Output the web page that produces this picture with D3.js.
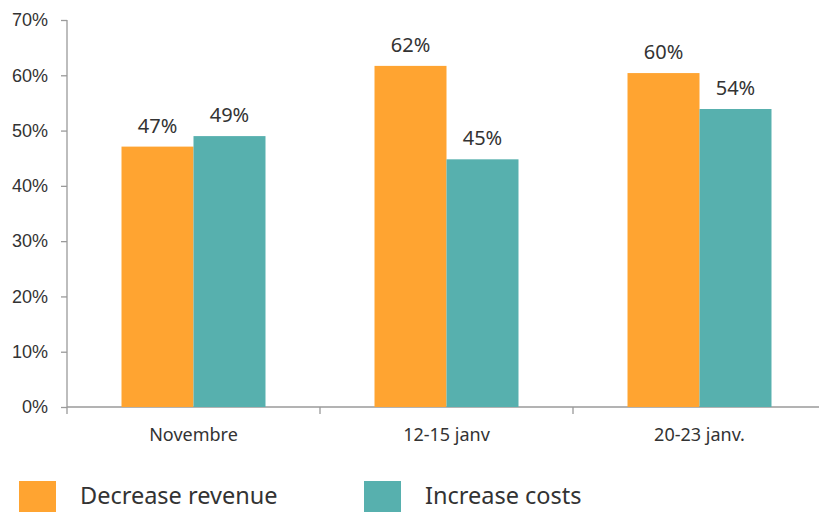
<!DOCTYPE html>
<html lang="fr">
<head>
    <meta charset="UTF-8">
    <title>Decrease revenue / Increase costs</title>
    <style>
        body {
            margin: 0;
            padding: 0;
            background-color: #fff;
            font-family: 'Noto Sans', sans-serif;
        }
        .axis path, .axis line {
            stroke: #9a9a9a;
            stroke-width: 1.3px;
        }
        .axis text {
            fill: #333;
        }
        .value-label {
            fill: #333;
            text-anchor: middle;
        }
        .legend text {
            fill: #333;
        }
    </style>
</head>
<body>
    <div id="chart"></div>

    <script src="https://d3js.org/d3.v7.min.js"></script>
    <script>
        const categories = ['Novembre', '12-15 janv', '20-23 janv.'];
        const seriesNames = ['Decrease revenue', 'Increase costs'];
        const decreaseRevenue = [47.1, 61.7, 60.4];
        const increaseCosts = [49.0, 44.8, 53.9];
        const yTicks = [0, 10, 20, 30, 40, 50, 60, 70];

        const colors = ['#ffa431', '#57b0ae'];
        const width = 819, height = 512;

        const data = categories.map((c, i) => ({
            category: c,
            values: [decreaseRevenue[i], increaseCosts[i]]
        }));

        const svg = d3.select('#chart')
            .append('svg')
            .attr('width', width)
            .attr('height', height);

        const x0 = d3.scaleBand()
            .domain(categories)
            .range([67, 826])
            .paddingInner(0)
            .paddingOuter(0);

        const x1 = d3.scaleBand()
            .domain(seriesNames)
            .range([0, x0.bandwidth()])
            .paddingInner(0)
            .paddingOuter(0.757);

        const y = d3.scaleLinear()
            .domain([0, 70])
            .range([407, 20]);

        // y axis
        const yAxis = svg.append('g')
            .attr('class', 'axis')
            .attr('transform', 'translate(67,0)')
            .call(d3.axisLeft(y)
                .tickValues(yTicks)
                .tickSize(6)
                .tickPadding(13)
                .tickFormat(d => d + '%'));
        yAxis.select('.domain').attr('d', 'M0,20V414');
        yAxis.selectAll('text').style('font-size', '18px');

        // x axis
        const xAxis = svg.append('g')
            .attr('class', 'axis')
            .attr('transform', 'translate(0,407)');
        xAxis.append('line')
            .attr('x1', 67).attr('x2', width)
            .attr('y1', 0).attr('y2', 0);
        xAxis.selectAll('.tick-line')
            .data(categories.slice(1))
            .enter()
            .append('line')
            .attr('x1', d => x0(d)).attr('x2', d => x0(d))
            .attr('y1', 0).attr('y2', 7);
        xAxis.selectAll('.cat-label')
            .data(categories)
            .enter()
            .append('text')
            .attr('x', d => x0(d) + x0.bandwidth() / 2)
            .attr('y', 34)
            .attr('text-anchor', 'middle')
            .style('font-size', '18px')
            .text(d => d);

        // bars
        const groups = svg.selectAll('.group')
            .data(data)
            .enter()
            .append('g')
            .attr('transform', d => `translate(${x0(d.category)},0)`);

        groups.selectAll('rect')
            .data(d => d.values.map((v, i) => ({ key: seriesNames[i], value: v, i })))
            .enter()
            .append('rect')
            .attr('x', d => x1(d.key))
            .attr('y', d => y(d.value))
            .attr('width', x1.bandwidth())
            .attr('height', d => y(0) - y(d.value))
            .attr('fill', d => colors[d.i]);

        groups.selectAll('.value-label')
            .data(d => d.values.map((v, i) => ({ key: seriesNames[i], value: v })))
            .enter()
            .append('text')
            .attr('class', 'value-label')
            .attr('x', d => x1(d.key) + x1.bandwidth() / 2)
            .attr('y', d => y(d.value) - 14)
            .style('font-size', '20px')
            .text(d => Math.round(d.value) + '%');

        // legend
        const legendX = [19, 364];
        const legend = svg.append('g').attr('class', 'legend');
        const item = legend.selectAll('g')
            .data(seriesNames)
            .enter()
            .append('g')
            .attr('transform', (d, i) => `translate(${legendX[i]},481)`);
        item.append('rect')
            .attr('width', 37)
            .attr('height', 37)
            .attr('fill', (d, i) => colors[i]);
        item.append('text')
            .attr('x', 61)
            .attr('y', 23)
            .style('font-size', '23.5px')
            .text(d => d);
    </script>
</body>
</html>
